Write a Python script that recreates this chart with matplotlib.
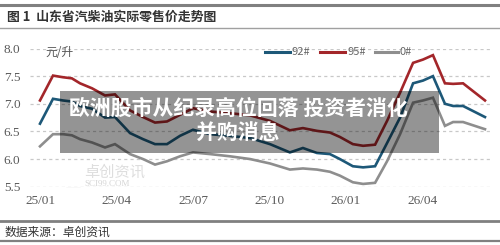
import matplotlib
matplotlib.use("Agg")
import matplotlib.pyplot as plt
from matplotlib.patches import Rectangle
from matplotlib.lines import Line2D

plt.rcParams['font.family'] = ['Noto Sans CJK SC', 'DejaVu Sans']

# months since 2025/01
months = [0, 0.51, 0.90, 1.25, 1.57, 2.04, 2.55, 2.94, 3.53, 4.04, 4.51, 4.98,
          5.49, 6.00, 6.67, 7.45, 8.24, 9.02, 9.80, 10.31, 10.86, 11.37, 11.76,
          12.27, 12.67, 13.14, 13.61, 14.12, 14.63, 15.02, 15.41, 15.88, 16.20,
          16.59, 17.45]
p92 = [6.64, 7.09, 7.06, 7.04, 6.96, 6.91, 6.75, 6.76, 6.47, 6.36, 6.27, 6.27,
       6.42, 6.53, 6.45, 6.42, 6.38, 6.27, 6.12, 6.20, 6.11, 6.09, 6.00, 5.87,
       5.85, 5.87, 6.29, 6.75, 7.37, 7.42, 7.50, 7.00, 6.96, 6.96, 6.76]
p95 = [7.06, 7.51, 7.48, 7.46, 7.37, 7.28, 7.15, 7.17, 6.88, 6.76, 6.66, 6.68,
       6.80, 6.92, 6.86, 6.83, 6.79, 6.69, 6.52, 6.56, 6.51, 6.48, 6.40, 6.27,
       6.24, 6.26, 6.69, 7.20, 7.74, 7.80, 7.88, 7.37, 7.36, 7.37, 7.06]
p0 = [6.23, 6.45, 6.45, 6.43, 6.36, 6.30, 6.21, 6.27, 6.09, 6.00, 5.90, 5.96,
      6.05, 6.12, 6.09, 6.05, 6.00, 5.92, 5.81, 5.83, 5.81, 5.77, 5.70, 5.58,
      5.55, 5.57, 5.96, 6.45, 7.02, 7.06, 7.11, 6.60, 6.67, 6.67, 6.54]
series_names = ['92#', '95#', '0#']
series_colors = ['#1d5878', '#a3262a', '#8e8e8e']
xtick_pos = [0, 3, 6, 9, 12, 15]
xtick_labels = ['25/01', '25/04', '25/07', '25/10', '26/01', '26/04']
yticks = [5.5, 6.0, 6.5, 7.0, 7.5, 8.0]

W, H = 500, 245
fig = plt.figure(figsize=(5, 2.45), dpi=100)
fig.patch.set_facecolor('white')

def fx(px):
    return px / W

def fy(py):
    return 1 - py / H

ax = fig.add_axes([fx(30), fy(186.7), fx(490) - fx(30), fy(48.5) - fy(186.7)])
ax.set_xlim((30 - 40) / 25.5, (490 - 40) / 25.5)
ax.set_ylim(5.5, 8.0)
for s in ax.spines.values():
    s.set_visible(False)
for y in yticks:
    ax.axhline(y, color='#c8c8c8', lw=0.9, ls=(0, (2.5, 2.5)), zorder=1)

for vals, c in zip([p92, p95, p0], series_colors):
    ax.plot(months, vals, color=c, lw=1.9, zorder=3, solid_joinstyle='miter')

ax.set_xticks(xtick_pos)
ax.set_xticklabels(xtick_labels, family='Liberation Serif', fontsize=9.5, color='#5a5a5a')
ax.set_yticks(yticks)
ax.set_yticklabels([f'{v:.1f}' for v in yticks], family='Liberation Serif', fontsize=9.5, color='#5a5a5a')
ax.tick_params(length=0)
ax.tick_params(axis='x', pad=6)
ax.tick_params(axis='y', pad=7)

ax.text(fx(45), fy(52), '元/升', transform=fig.transFigure, fontsize=8.5, color='#555555',
        va='center', ha='left')

# legend
lx = [(265, 290, '92#'), (320, 345, '95#'), (375, 398, '0#')]
for (x0, x1, name), c in zip(lx, series_colors):
    fig.add_artist(Line2D([fx(x0), fx(x1)], [fy(52), fy(52)], color=c, lw=2.2,
                          transform=fig.transFigure))
    fig.text(fx(x1 + 2), fy(52), name, fontsize=8, color='#666666', va='center', ha='left')

# watermark
fig.add_artist(Rectangle((fx(66), fy(186)), fx(14), fy(170) - fy(186), color='#dcdcdc',
                         transform=fig.transFigure, zorder=0))
fig.text(fx(84), fy(172), '卓创资讯', fontsize=11, color='#dedede', va='center', ha='left')
fig.text(fx(84), fy(184), 'SCI99.COM', fontsize=6.5, family='Liberation Serif',
         color='#d6d6d6', va='center', ha='left')

# header
fig.add_artist(Line2D([0, 1], [fy(5), fy(5)], color='#808080', lw=2.2, transform=fig.transFigure))
fig.add_artist(Line2D([0, 1], [fy(28), fy(28)], color='#a0a0a0', lw=1.0, transform=fig.transFigure))
fig.text(fx(7), fy(16.5), '图 1  山东省汽柴油实际零售价走势图', fontsize=9.3, fontweight='bold',
         color='#333333', va='center', ha='left')

# footer
fig.add_artist(Line2D([0, 1], [fy(221), fy(221)], color='#808080', lw=2.0, transform=fig.transFigure))
fig.add_artist(Line2D([0, 1], [fy(241), fy(241)], color='#808080', lw=1.6, transform=fig.transFigure))
fig.text(fx(5), fy(232), '数据来源：卓创资讯', fontsize=8.5, color='#333333', va='center', ha='left')

# overlay banner
fig.add_artist(Rectangle((fx(60), fy(153)), fx(439) - fx(60), fy(91) - fy(153),
                         facecolor='black', alpha=0.42, edgecolor='none',
                         transform=fig.transFigure, zorder=10))
fig.text(fx(238), fy(108), '欧洲股市从纪录高位回落 投资者消化', fontsize=15, fontweight='bold',
         color='white', va='center', ha='center', zorder=11)
fig.text(fx(238), fy(133), '并购消息', fontsize=15, fontweight='bold',
         color='white', va='center', ha='center', zorder=11)

fig.savefig('out.png', dpi=100)
